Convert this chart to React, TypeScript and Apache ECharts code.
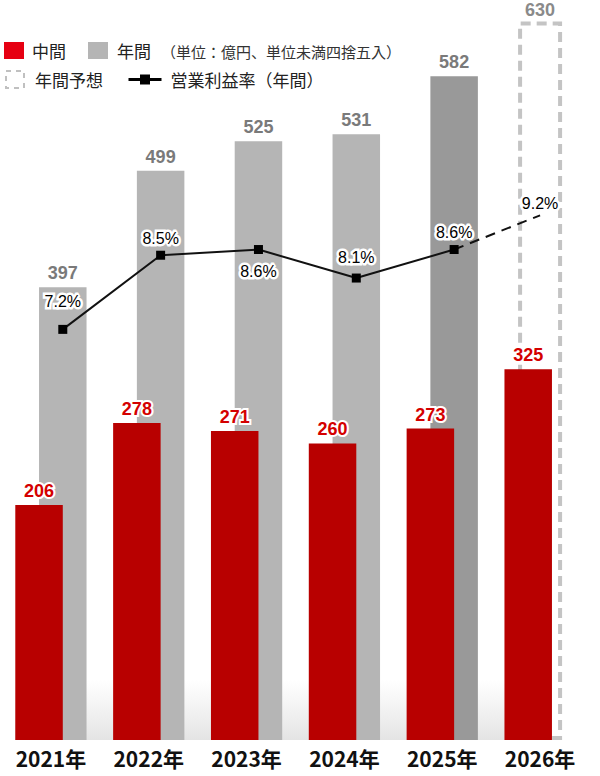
import { useEffect, useRef } from 'react';
import * as echarts from 'echarts';

// ---- data ----
const years = ['2021年', '2022年', '2023年', '2024年', '2025年', '2026年'];
const interim = [206, 278, 271, 260, 273, 325];
const annual = [397, 499, 525, 531, 582, null];
const annualForecast = [null, null, null, null, null, 630];
const marginActual = [7.2, 8.5, 8.6, 8.1, 8.6, null];
const marginForecast = [null, null, null, null, 8.6, 9.2];
const unitNote = '（単位：億円、単位未満四捨五入）';

// ---- layout / style ----
const W = 600;
const H = 776;
const GRID = { left: 2, right: 11, top: 10, bottom: 36 };
const Y_MAX = 640;
const PCT_MAX = 12.8;
const BAR_W = 47.5;
const PCT_LABEL_POS = ['top', 'top', 'bottom', 'top', 'top', 'top'];
const PCT_LABEL_DIST = [15, 4.5, 9.5, 8.5, 4.5, 3];

const NUM_FONT = "'Liberation Sans', Arial, sans-serif";
const JP_FONT = "'Noto Sans CJK JP', 'Noto Sans', sans-serif";

export default function App() {
  const ref = useRef<HTMLDivElement>(null);

  useEffect(() => {
    if (!ref.current) return;
    const chart = echarts.init(ref.current, null, { renderer: 'svg' });

    const catW = (W - GRID.left - GRID.right) / years.length;
    const grayShift = (BAR_W * 0.25) / catW; // gray bar centre offset from category centre
    let latest = -1;
    annual.forEach((v, i) => {
      if (v != null) latest = i;
    });

    const pctLabel = (i: number) => ({
      show: true,
      position: PCT_LABEL_POS[i],
      distance: PCT_LABEL_DIST[i],
    });

    const solidData: any[] = [];
    marginActual.forEach((v, i) => {
      if (v == null) return;
      solidData.push({ value: [i + (annual[i] != null ? grayShift : 0), v], label: pctLabel(i) });
    });
    const dashData: any[] = [];
    marginForecast.forEach((v, i) => {
      if (v == null) return;
      const isActual = marginActual[i] != null;
      dashData.push({
        value: [i + (annual[i] != null ? grayShift : 0), v],
        label: isActual ? { show: false } : pctLabel(i),
      });
    });

    const pctLabelStyle = {
      color: '#000',
      fontSize: 16,
      fontFamily: NUM_FONT,
      textBorderColor: '#fff',
      textBorderWidth: 5,
      formatter: (p: any) => `${Number(p.value[1]).toFixed(1)}%`,
    };

    const grid = [0, 1, 2].map(() => ({ ...GRID, outerBoundsMode: 'none' }));

    const legendText = (pad: number) => ({
      color: '#222',
      fontSize: 17,
      fontFamily: JP_FONT,
      padding: [0, 0, 0, pad],
    });

    chart.setOption({
      animation: false,
      grid,
      xAxis: [
        {
          gridIndex: 0,
          type: 'category',
          data: years,
          axisLine: { show: false },
          axisTick: { show: false },
          axisLabel: {
            margin: 7,
            color: '#111',
            fontSize: 21,
            fontWeight: 'bold',
            fontFamily: JP_FONT,
          },
        },
        { gridIndex: 1, type: 'category', data: years, show: false },
        { gridIndex: 2, type: 'value', min: -0.5, max: years.length - 0.5, show: false },
      ],
      yAxis: [
        { gridIndex: 0, type: 'value', min: 0, max: Y_MAX, show: false, splitLine: { show: false } },
        { gridIndex: 1, type: 'value', min: 0, max: Y_MAX, show: false, splitLine: { show: false } },
        { gridIndex: 2, type: 'value', min: 0, max: PCT_MAX, show: false, splitLine: { show: false } },
      ],
      legend: [
        {
          data: [{ name: '中間', itemStyle: { color: '#e60012' } }],
          left: 4,
          top: 42,
          padding: 0,
          icon: 'rect',
          itemWidth: 20,
          itemHeight: 17,
          selectedMode: false,
          textStyle: legendText(3),
        },
        {
          data: [{ name: '年間', itemStyle: { color: '#b5b5b5' } }],
          left: 88,
          top: 42,
          padding: 0,
          icon: 'rect',
          itemWidth: 20,
          itemHeight: 17,
          selectedMode: false,
          textStyle: legendText(4),
        },
        {
          data: [
            {
              name: '年間予想',
              itemStyle: {
                color: '#fff',
                borderColor: '#c0c0c0',
                borderWidth: 2,
                borderType: [5, 5],
              },
            },
          ],
          left: 5,
          top: 70,
          padding: 0,
          icon: 'rect',
          itemWidth: 18,
          itemHeight: 17,
          selectedMode: false,
          textStyle: legendText(6),
        },
        {
          data: [{ name: '営業利益率（年間）' }],
          left: 127,
          top: 71,
          padding: 0,
          itemWidth: 33,
          itemHeight: 12.5,
          selectedMode: false,
          lineStyle: { width: 3, color: '#000' },
          itemStyle: { color: '#000' },
          textStyle: legendText(4),
        },
      ],
      graphic: [
        {
          type: 'rect',
          silent: true,
          z: 0,
          shape: { x: 15, y: 680, width: 510, height: 60 },
          style: {
            fill: new echarts.graphic.LinearGradient(0, 0, 0, 1, [
              { offset: 0, color: 'rgba(230,230,230,0)' },
              { offset: 1, color: '#e4e4e4' },
            ]),
          },
        },
        {
          type: 'text',
          x: 161,
          y: 51,
          silent: true,
          style: {
            text: unitNote,
            fontSize: 15,
            fontFamily: JP_FONT,
            fill: '#333',
            verticalAlign: 'middle',
          },
        },
      ],
      series: [
        {
          name: '年間予想',
          type: 'bar',
          xAxisIndex: 1,
          yAxisIndex: 1,
          data: annualForecast,
          barWidth: 44,
          z: 1,
          itemStyle: {
            color: 'rgba(0,0,0,0)',
            borderColor: '#c4c4c4',
            borderWidth: 4,
            borderType: [10, 6],
          },
          label: {
            show: true,
            position: 'top',
            distance: 2,
            lineHeight: 18,
            color: '#8a8a8a',
            fontSize: 18,
            fontWeight: 'bold',
            fontFamily: NUM_FONT,
          },
        },
        {
          name: '中間',
          type: 'bar',
          xAxisIndex: 0,
          yAxisIndex: 0,
          data: interim,
          barWidth: BAR_W,
          barGap: '-50%',
          z: 3,
          itemStyle: { color: '#b80000' },
          label: {
            show: true,
            position: 'top',
            distance: 5,
            color: '#d40000',
            fontSize: 18,
            fontWeight: 'bold',
            fontFamily: NUM_FONT,
            textBorderColor: '#fff',
            textBorderWidth: 4,
          },
        },
        {
          name: '年間',
          type: 'bar',
          xAxisIndex: 0,
          yAxisIndex: 0,
          data: annual.map((v, i) =>
            v == null ? null : { value: v, itemStyle: { color: i === latest ? '#999999' : '#b5b5b5' } }
          ),
          barWidth: BAR_W,
          barGap: '-50%',
          z: 2,
          label: {
            show: true,
            position: 'top',
            distance: 5,
            color: '#7a7a7a',
            fontSize: 18,
            fontWeight: 'bold',
            fontFamily: NUM_FONT,
            textBorderColor: '#fff',
            textBorderWidth: 4,
          },
        },
        {
          name: '営業利益率（年間）',
          type: 'line',
          xAxisIndex: 2,
          yAxisIndex: 2,
          data: solidData,
          z: 5,
          symbol: 'rect',
          symbolSize: 9,
          itemStyle: { color: '#000' },
          lineStyle: { color: '#111', width: 2 },
          label: pctLabelStyle,
        },
        {
          name: '営業利益率予想',
          type: 'line',
          xAxisIndex: 2,
          yAxisIndex: 2,
          data: dashData,
          z: 4,
          symbol: 'rect',
          symbolSize: 1,
          itemStyle: { color: 'rgba(0,0,0,0)' },
          lineStyle: { color: '#111', width: 2, type: [10, 7] },
          label: pctLabelStyle,
        },
      ],
    });

    return () => chart.dispose();
  }, []);

  return (
    <div
      ref={ref}
      style={{ position: 'absolute', left: 0, top: 0, width: W, height: H }}
    />
  );
}
